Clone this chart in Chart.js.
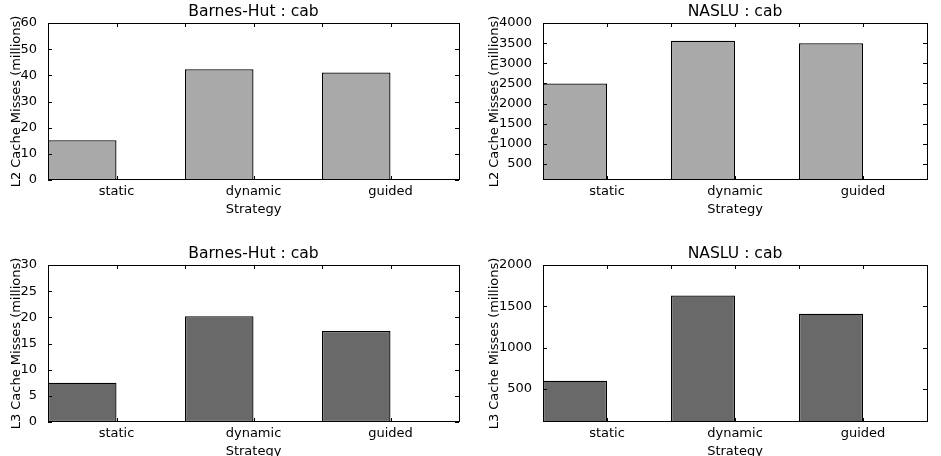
<!DOCTYPE html>
<html>
<head>
<meta charset="utf-8">
<script src="https://cdn.jsdelivr.net/npm/chart.js@4"></script>
<style>
body { margin: 0; width: 941px; height: 456px; overflow: hidden; background: #fff; position: relative; }
.panel { position: absolute; width: 470px; height: 228px; }
</style>
</head>
<body>
<div class="panel" style="left:0;top:0"><canvas id="c1"></canvas></div>
<div class="panel" style="left:470px;top:0;width:471px"><canvas id="c2"></canvas></div>
<div class="panel" style="left:0;top:242px"><canvas id="c3"></canvas></div>
<div class="panel" style="left:470px;top:242px;width:471px"><canvas id="c4"></canvas></div>
<script>
const strategies = ['static', 'dynamic', 'guided']

const barnesL2 = [15.2, 42.3, 41.1]
const nasluL2 = [2500, 3560, 3500]
const barnesL3 = [7.5, 20.2, 17.4]
const nasluL3 = [600, 1630, 1410]

const barnesL2Ticks = [0, 10, 20, 30, 40, 50, 60]
const nasluL2Ticks = [500, 1000, 1500, 2000, 2500, 3000, 3500, 4000]
const barnesL3Ticks = [0, 5, 10, 15, 20, 25, 30]
const nasluL3Ticks = [500, 1000, 1500, 2000]

// x axis runs 0..3, bars sit on [i, i+0.5], labels at i+0.5
const xLabelTicks = [0.5, 1.5, 2.5]
const xTickMarks = [0.5, 1, 1.5, 2, 2.5]

Chart.defaults.font.family = 'DejaVu Sans'
Chart.defaults.color = '#000'

// matplotlib-like box with inward ticks
const framePlugin = {
    id: 'frame',
    afterDatasetsDraw(chart) {
        const { ctx, chartArea: a, scales: { x, y } } = chart
        ctx.save()
        ctx.strokeStyle = '#000'
        ctx.lineWidth = 1
        ctx.beginPath()
        xTickMarks.forEach(v => {
            const px = Math.round(x.getPixelForValue(v)) + 0.5
            ctx.moveTo(px, a.top); ctx.lineTo(px, a.top + 4)
            ctx.moveTo(px, a.bottom); ctx.lineTo(px, a.bottom - 4)
        })
        y.ticks.forEach(t => {
            const py = Math.round(y.getPixelForValue(t.value)) + 0.5
            ctx.moveTo(a.left, py); ctx.lineTo(a.left + 4, py)
            ctx.moveTo(a.right, py); ctx.lineTo(a.right - 4, py)
        })
        ctx.stroke()
        ctx.strokeRect(Math.round(a.left) + 0.5, Math.round(a.top) + 0.5,
            Math.round(a.right - a.left), Math.round(a.bottom - a.top) - 1)
        ctx.restore()
    }
}

const makeChart = (id, o) => {
    new Chart(document.getElementById(id), {
        type: 'bar',
        data: {
            datasets: [{
                data: o.values.map((v, i) => ({ x: i + 0.25, y: v })),
                backgroundColor: o.color,
                borderColor: '#000',
                borderWidth: 1.3,
                borderSkipped: false,
                categoryPercentage: 0.5,
                barPercentage: 1
            }]
        },
        options: {
            responsive: true,
            maintainAspectRatio: false,
            animation: false,
            layout: { padding: { left: 0, top: 0, right: o.padRight, bottom: 0 } },
            plugins: {
                legend: { display: false },
                tooltip: { enabled: false },
                title: {
                    display: true,
                    fullSize: false,
                    text: o.title,
                    font: { size: 15.6, weight: 'normal', lineHeight: 1 },
                    padding: { top: 4.4, bottom: 3 },
                    color: '#000'
                }
            },
            scales: {
                x: {
                    type: 'linear',
                    min: 0,
                    max: 3,
                    offset: false,
                    grid: { display: false, offset: false },
                    border: { display: false },
                    afterBuildTicks: s => { s.ticks = xLabelTicks.map(v => ({ value: v })) },
                    afterFit: s => { s.height = 48 },
                    ticks: {
                        autoSkip: false,
                        maxRotation: 0,
                        padding: -4,
                        font: { size: 13 },
                        callback: (v, i) => strategies[i]
                    },
                    title: {
                        display: true,
                        text: 'Strategy',
                        font: { size: 13 },
                        padding: { top: 0, bottom: 11 }
                    }
                },
                y: {
                    min: o.yMin,
                    max: o.yMax,
                    grid: { display: false },
                    border: { display: false },
                    afterBuildTicks: s => { s.ticks = o.ticks.map(v => ({ value: v })) },
                    afterFit: s => { s.width = o.axisWidth },
                    ticks: { padding: 3, font: { size: 13 }, callback: v => String(v) },
                    title: {
                        display: true,
                        text: o.yLabel,
                        font: { size: 13 },
                        padding: { top: o.yTitlePad, bottom: 0 }
                    }
                }
            }
        },
        plugins: [framePlugin]
    })
}

makeChart('c1', { title: 'Barnes-Hut : cab', yLabel: 'L2 Cache Misses (millions)', values: barnesL2,
    ticks: barnesL2Ticks, yMin: 0, yMax: 60, color: '#a9a9a9', axisWidth: 48, padRight: 11, yTitlePad: 9.2 })
makeChart('c2', { title: 'NASLU : cab', yLabel: 'L2 Cache Misses (millions)', values: nasluL2,
    ticks: nasluL2Ticks, yMin: 100, yMax: 4000, color: '#a9a9a9', axisWidth: 73, padRight: 14, yTitlePad: 16.9 })
makeChart('c3', { title: 'Barnes-Hut : cab', yLabel: 'L3 Cache Misses (millions)', values: barnesL3,
    ticks: barnesL3Ticks, yMin: 0, yMax: 30, color: '#696969', axisWidth: 48, padRight: 11, yTitlePad: 9.2 })
makeChart('c4', { title: 'NASLU : cab', yLabel: 'L3 Cache Misses (millions)', values: nasluL3,
    ticks: nasluL3Ticks, yMin: 100, yMax: 2000, color: '#696969', axisWidth: 73, padRight: 14, yTitlePad: 16.9 })
</script>
</body>
</html>
